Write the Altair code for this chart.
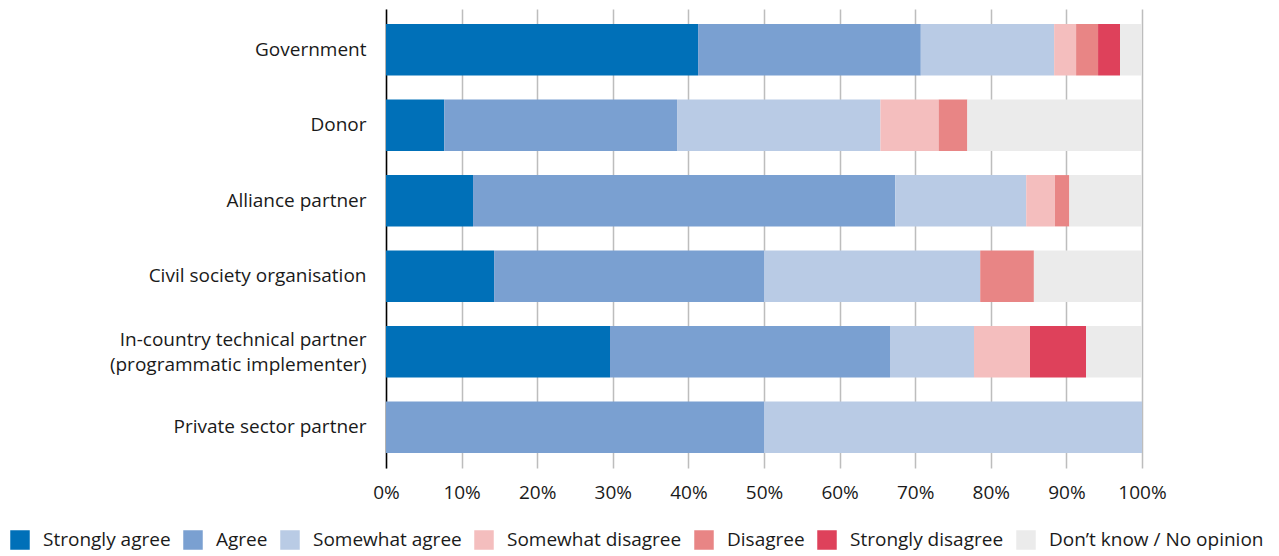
import altair as alt
import pandas as pd

categories = [
    "Government",
    "Donor",
    "Alliance partner",
    "Civil society organisation",
    "In-country technical partner|(programmatic implementer)",
    "Private sector partner",
]
responses = [
    "Strongly agree",
    "Agree",
    "Somewhat agree",
    "Somewhat disagree",
    "Disagree",
    "Strongly disagree",
    "Don\u2019t know / No opinion",
]
colors = ["#0070b8", "#7aa0d1", "#b9cbe5", "#f4bebe", "#e88585", "#de415b", "#ebebeb"]

# percentage shares per category, in response order
government = [41.2, 29.4, 17.6, 2.9, 2.9, 2.9, 2.9]
donor = [7.7, 30.8, 26.9, 7.7, 3.8, 0.0, 23.1]
alliance = [11.5, 55.8, 17.3, 3.8, 1.9, 0.0, 9.6]
cso = [14.3, 35.7, 28.6, 0.0, 7.1, 0.0, 14.3]
incountry = [29.6, 37.0, 11.1, 7.4, 0.0, 7.4, 7.4]
private = [0.0, 50.0, 50.0, 0.0, 0.0, 0.0, 0.0]

series = [government, donor, alliance, cso, incountry, private]
rows = []
for cat, vals in zip(categories, series):
    for i, (resp, v) in enumerate(zip(responses, vals)):
        rows.append({"category": cat, "response": resp, "value": v, "order": i})
df = pd.DataFrame(rows)

FONT = "Open Sans"
FS = 19

chart = alt.Chart(df).mark_bar().encode(
    y=alt.Y(
        "category:N",
        sort=categories,
        title=None,
        scale=alt.Scale(paddingInner=0.32, paddingOuter=0.2),
        axis=alt.Axis(
            labelExpr="split(datum.label, '|')",
            labelFontSize=FS,
            labelFont=FONT,
            labelColor="#1a1a1a",
            labelPadding=20,
            labelLineHeight=25,
            labelLimit=0,
            labelOffset={
                "condition": {"test": "indexof(datum.value, '|') >= 0", "value": -12},
                "value": 0,
            },
            ticks=False,
            domain=True,
            domainColor="#000000",
            domainWidth=1.5,
            grid=False,
        ),
    ),
    x=alt.X(
        "value:Q",
        stack="normalize",
        title=None,
        scale=alt.Scale(domain=[0, 1], nice=False),
        axis=alt.Axis(
            format=".0%",
            values=[i / 10 for i in range(11)],
            labelFontSize=FS,
            labelFont=FONT,
            labelColor="#1a1a1a",
            labelPadding=15,
            labelFlush=False,
            labelOverlap=False,
            labelLimit=0,
            ticks=False,
            domain=False,
            grid=True,
            gridColor="#bdbdbd",
            gridWidth=1.5,
        ),
    ),
    color=alt.Color(
        "response:N",
        sort=responses,
        scale=alt.Scale(domain=responses, range=colors),
        legend=alt.Legend(
            title=None,
            orient="none",
            legendX=-376,
            legendY=521,
            direction="horizontal",
            symbolType="square",
            symbolSize=380,
            symbolStrokeWidth=0,
            symbolOpacity=1,
            labelFontSize=FS,
            labelFont=FONT,
            labelColor="#1a1a1a",
            labelOffset=13,
            labelLimit=0,
            columnPadding=12,
        ),
    ),
    order=alt.Order("order:Q"),
).properties(
    width=756,
    height=459,
    padding={"left": 386, "top": 9, "right": 137, "bottom": 88},
    autosize=alt.AutoSizeParams(type="none"),
).configure_view(stroke=None)

chart.save("out.html", embed_options={"renderer": "svg", "actions": False})
